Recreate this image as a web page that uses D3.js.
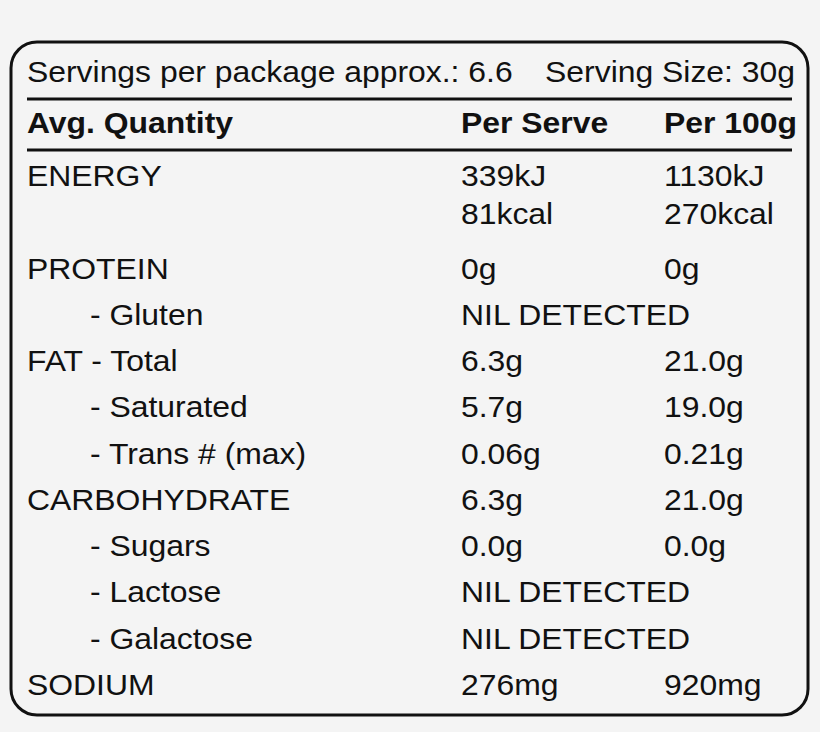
<!DOCTYPE html>
<html><head><meta charset="utf-8">
<script src="https://cdn.jsdelivr.net/npm/d3@7"></script>
<style>body{margin:0;background:#f4f4f4}text{font-family:"Liberation Sans",Arial,sans-serif;font-size:29px;fill:#111}</style>
</head><body>
<div id="chart"></div>
<script>
// rows of the panel (kcal line gets its own row)
const labels = ['ENERGY', '', 'PROTEIN', '- Gluten', 'FAT - Total', '- Saturated', '- Trans # (max)', 'CARBOHYDRATE', '- Sugars', '- Lactose', '- Galactose', 'SODIUM'];
const indented = [false, false, false, true, false, true, true, false, true, true, true, false];
const perServe = ['339kJ', '81kcal', '0g', 'NIL DETECTED', '6.3g', '5.7g', '0.06g', '6.3g', '0.0g', 'NIL DETECTED', 'NIL DETECTED', '276mg'];
const per100g = ['1130kJ', '270kcal', '0g', '', '21.0g', '19.0g', '0.21g', '21.0g', '0.0g', '', '', '920mg'];
const headers = ['Avg. Quantity', 'Per Serve', 'Per 100g'];

const width = 820, height = 732;
const sx = 1.1; // the label's type is stretched sideways
const svg = d3.select('#chart').append('svg').attr('width', width).attr('height', height);

svg.append('rect').attr('x', 11).attr('y', 42).attr('width', 797).attr('height', 673)
  .attr('rx', 26).attr('fill', '#f4f4f4').attr('stroke', '#111').attr('stroke-width', 3);

const y = d3.scaleLinear().domain([0, labels.length - 1]).range([186, 695]);
const cols = [27, 461, 664];

function put(x, yy, t, anchor) {
  return svg.append('text').attr('transform', `translate(${x},${yy}) scale(${sx},1)`)
    .attr('text-anchor', anchor || 'start').text(t);
}

put(27, 82, 'Servings per package approx.: 6.6');
put(795, 82, 'Serving Size: 30g', 'end');
svg.append('line').attr('x1', 27).attr('x2', 792).attr('y1', 99).attr('y2', 99).attr('stroke', '#111').attr('stroke-width', 3);
headers.forEach((h, i) => put(cols[i], 133, h).style('font-weight', 'bold'));
svg.append('line').attr('x1', 27).attr('x2', 792).attr('y1', 150).attr('y2', 150).attr('stroke', '#111').attr('stroke-width', 3);

labels.forEach((d, i) => {
  const yy = i === 1 ? y(1) - 8 : y(i);
  put(indented[i] ? 90 : 27, yy, d);
  put(cols[1], yy, perServe[i]);
  put(cols[2], yy, per100g[i]);
});
</script>
</body></html>
